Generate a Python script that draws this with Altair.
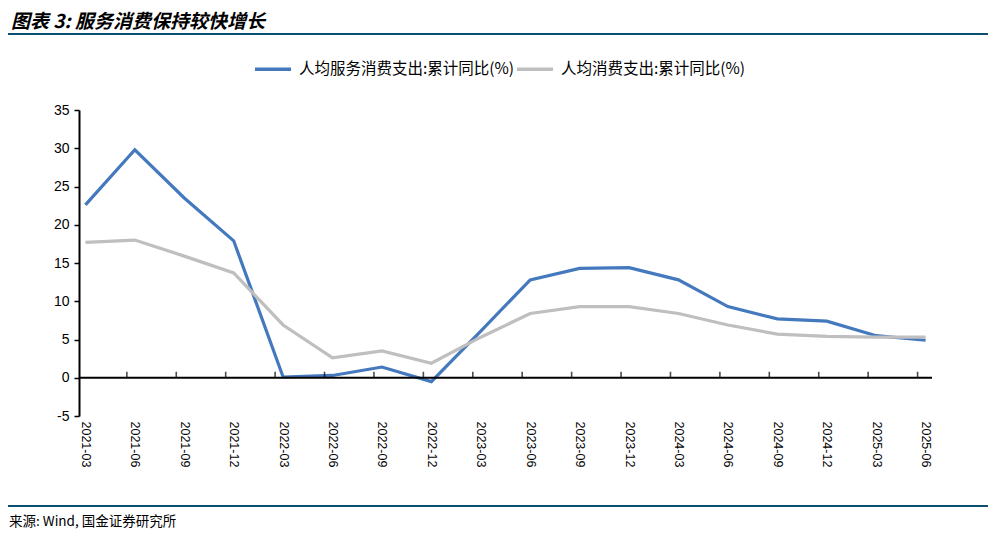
import altair as alt
import pandas as pd

periods = ["2021-03", "2021-06", "2021-09", "2021-12",
           "2022-03", "2022-06", "2022-09", "2022-12",
           "2023-03", "2023-06", "2023-09", "2023-12",
           "2024-03", "2024-06", "2024-09", "2024-12",
           "2025-03", "2025-06"]
service = [22.6, 29.8, 23.5, 17.9, 0.1, 0.3, 1.4, -0.5, 6.1, 12.8,
           14.3, 14.4, 12.8, 9.3, 7.7, 7.4, 5.5, 4.9]
total = [17.7, 18.0, 15.9, 13.7, 6.9, 2.6, 3.5, 1.9, 5.3, 8.4,
         9.3, 9.3, 8.4, 6.9, 5.7, 5.4, 5.3, 5.3]
series_names = ["人均服务消费支出:累计同比(%)", "人均消费支出:累计同比(%)"]
series_colors = ["#4479BE", "#BFBFBF"]
y_ticks = [-5, 0, 5, 10, 15, 20, 25, 30, 35]

title_text = "图表 3: 服务消费保持较快增长"
source_text = "来源: Wind, 国金证券研究所"

rows = []
for p, a, b in zip(periods, service, total):
    rows.append({"period": p, "series": series_names[0], "value": a})
    rows.append({"period": p, "series": series_names[1], "value": b})
df = pd.DataFrame(rows)
ticks_df = pd.DataFrame({"period": periods[1:], "value": [0] * (len(periods) - 1)})
zero_df = pd.DataFrame({"value": [0]})

W, H = 853, 306
FONT = "Liberation Sans"
CJK = "Noto Sans CJK SC"

xscale = alt.Scale(type="point", domain=periods, padding=0.13)
yscale = alt.Scale(domain=[-5, 35], nice=False, zero=False)

x_axis = alt.Axis(domain=False, ticks=False, labelAngle=90, labelPadding=5,
                  labelFont=FONT, labelFontSize=12.5, labelColor="#000000",
                  labelOverlap=False, grid=False)
y_axis = alt.Axis(values=y_ticks, grid=False, domain=True, domainColor="#000000",
                  domainWidth=2, ticks=True, tickColor="#000000", tickSize=5,
                  tickWidth=1.5, labelPadding=5, labelFont=FONT, labelFontSize=14,
                  labelColor="#000000", labelOverlap=False,
                  labelExpr="toString(datum.value)")

X = alt.X("period:O", scale=xscale, sort=periods, title=None, axis=x_axis)
Y = alt.Y("value:Q", scale=yscale, title=None, axis=y_axis)

lines = alt.Chart(df).mark_line(strokeWidth=3.2, strokeCap="butt", strokeJoin="miter").encode(
    x=X,
    y=Y,
    color=alt.Color("series:N", sort=series_names,
                    scale=alt.Scale(domain=series_names, range=series_colors),
                    legend=alt.Legend(title=None, orient="none", direction="horizontal",
                                      legendX=174, legendY=-61, symbolType="stroke",
                                      symbolSize=1300, symbolStrokeWidth=3.5,
                                      labelFont=CJK, labelFontSize=15.5, labelColor="#000000",
                                      labelLimit=400, columnPadding=-6, symbolOffset=0,
                                      labelOffset=6)),
    detail="series:N",
)

zero_line = alt.Chart(zero_df).mark_rule(color="#000000", strokeWidth=2).encode(y=Y)

zero_ticks = alt.Chart(ticks_df).mark_tick(orient="vertical", color="#000000", size=6,
                                           thickness=1.6, yOffset=-3, xOffset=-8).encode(
    x=X,
    y=Y,
)

title = alt.Chart(pd.DataFrame({"t": [title_text]})).mark_text(
    align="left", baseline="middle", font=CJK, fontSize=19, fontWeight="bold",
    fontStyle="italic", color="#000000"
).encode(x=alt.value(-68), y=alt.value(-88), text="t:N")

top_rule = alt.Chart(pd.DataFrame({"a": [0]})).mark_rule(color="#0B4F71", strokeWidth=2).encode(
    x=alt.value(-71), x2=alt.value(909), y=alt.value(-76)
)
bottom_rule = alt.Chart(pd.DataFrame({"a": [0]})).mark_rule(color="#0B4F71", strokeWidth=2).encode(
    x=alt.value(-71), x2=alt.value(909), y=alt.value(396)
)
source = alt.Chart(pd.DataFrame({"t": [source_text]})).mark_text(
    align="left", baseline="middle", font=CJK, fontSize=13.5, color="#000000"
).encode(x=alt.value(-70), y=alt.value(412), text="t:N")

chart = alt.layer(lines, zero_line, zero_ticks, title, top_rule, bottom_rule, source).properties(
    width=W, height=H,
    background="#FFFFFF",
    autosize=alt.AutoSizeParams(type="none"),
    padding={"left": 71, "top": 102, "right": 56, "bottom": 120},
).configure_view(strokeWidth=0, stroke="transparent")

chart.save("out.html", embed_options={"renderer": "svg", "actions": False})
